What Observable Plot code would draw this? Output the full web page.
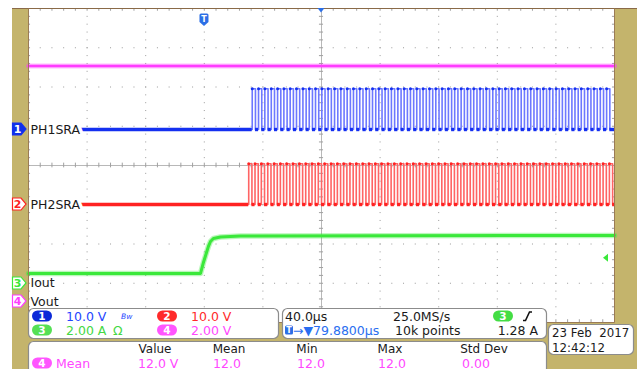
<!DOCTYPE html>
<html><head><meta charset="utf-8">
<script src="https://cdn.jsdelivr.net/npm/d3@7"></script>
<script src="https://cdn.jsdelivr.net/npm/@observablehq/plot@0.6"></script>
<style>
html,body{margin:0;padding:0;background:#fff;}
#chart{position:relative;width:639px;height:369px;overflow:hidden;}
svg text{font-family:"DejaVu Sans",sans-serif;}
</style></head><body><div id="chart"></div>
<script>
// ---------- data (time in µs, trigger at t = 0) ----------
const timeWindow = [-120.12, 279.88];          // 10 div x 40 µs
const timePerDiv = 40;
const channelNames = ["PH1SRA", "PH2SRA", "Iout", "Vout"];
const channelNums = ["1", "2", "3", "4"];
const channelUnitsPerDiv = [10, 10, 2, 2];     // V/div, V/div, A/div, V/div
const channelOffsetDiv = [0.917, -0.994, -3.006, -3.465];
const channelColors = ["#1430f0", "#ff2222", "#3ae83a", "#ff3cff"];

const voutTime = [-120.12, 279.88];
const voutVolts = [12.0, 12.0];

const ioutTime = [-120.1, -2.7, -0.7, 1.4, 2.7, 4.1, 6.1, 10.9, 24.6, 279.9];
const ioutAmps = [0.51, 0.51, 1.07, 1.58, 1.89, 2.14, 2.29, 2.37, 2.42, 2.45];

const ph1Rise = [32.6, 36.9, 41.2, 45.6, 49.9, 54.2, 58.5, 62.8, 67.2, 71.5, 75.8, 80.1, 84.4, 88.8, 93.1, 97.4,
  101.7, 106.0, 110.4, 114.7, 119.0, 123.3, 127.6, 132.0, 136.3, 140.6, 144.9, 149.2, 153.6, 157.9, 162.2,
  166.5, 170.8, 175.2, 179.5, 183.8, 188.1, 192.4, 196.8, 201.1, 205.4, 209.7, 214.0, 218.4, 222.7, 227.0,
  231.3, 235.6, 240.0, 244.3, 248.6, 252.9, 257.2, 261.6, 265.9, 270.2, 274.5];
const ph2Rise = [30.2, 34.5, 38.8, 43.2, 47.5, 51.8, 56.1, 60.4, 64.8, 69.1, 73.4, 77.7, 82.0, 86.4, 90.7, 95.0,
  99.3, 103.6, 108.0, 112.3, 116.6, 120.9, 125.2, 129.6, 133.9, 138.2, 142.5, 146.8, 151.2, 155.5, 159.8,
  164.1, 168.4, 172.8, 177.1, 181.4, 185.7, 190.0, 194.4, 198.7, 203.0, 207.3, 211.6, 216.0, 220.3, 224.6,
  228.9, 233.2, 237.6, 241.9, 246.2, 250.5, 254.8, 259.2, 263.5, 267.8, 272.1, 276.4];
const pulseHighVolts = [10.4, 10.4];
const pulseWidth = 2.2;

const triggerAmps = 1.28;
const scaleLabels = ["10.0 V", "10.0 V", "2.00 A", "2.00 V"];
const timebaseLabels = ["40.0µs", "25.0MS/s", "10k points"];
const triggerPosLabel = "→▼79.8800µs";
const triggerLevelLabel = "1.28 A";
const measHeaders = ["Value", "Mean", "Min", "Max", "Std Dev"];
const measRowName = "Mean";
const measValues = ["12.0 V", "12.0", "12.0", "12.0", "0.00"];
const dateLabels = ["23 Feb  2017", "12:42:12"];

// ---------- derived tables ----------
const toDiv = (ch, v) => channelOffsetDiv[ch] + v / channelUnitsPerDiv[ch];
const vout = voutTime.map((t, i) => ({t, d: toDiv(3, voutVolts[i])}));
const iout = ioutTime.map((t, i) => ({t, d: toDiv(2, ioutAmps[i])}));
function wave(ch, rises, high) {
  const pts = [{t: timeWindow[0], d: toDiv(ch, 0)}];
  for (const r of rises) {
    pts.push({t: r, d: toDiv(ch, 0)}, {t: r, d: toDiv(ch, high)},
             {t: r + pulseWidth, d: toDiv(ch, high)}, {t: r + pulseWidth, d: toDiv(ch, 0)});
  }
  pts.push({t: timeWindow[1], d: toDiv(ch, 0)});
  return pts;
}
function lows(ch, rises) {
  const segs = [{t1: timeWindow[0], t2: rises[0], d: toDiv(ch, 0)}];
  rises.forEach((r, i) => segs.push({t1: r + pulseWidth, t2: i + 1 < rises.length ? rises[i + 1] : timeWindow[1], d: toDiv(ch, 0)}));
  return segs;
}
const ph1 = wave(0, ph1Rise, pulseHighVolts[0]);
const ph2 = wave(1, ph2Rise, pulseHighVolts[1]);
const ph1Low = lows(0, ph1Rise), ph2Low = lows(1, ph2Rise);
const ph1Top = ph1Rise.map(t => ({t, d: toDiv(0, pulseHighVolts[0])}));
const ph2Top = ph2Rise.map(t => ({t, d: toDiv(1, pulseHighVolts[1])}));

// graticule
const majorX = d3.range(0, 11).map(i => timeWindow[0] + i * timePerDiv);
const majorY = d3.range(-4, 5);
const minorX = d3.range(0, 51).map(i => timeWindow[0] + i * timePerDiv / 5);
const minorY = d3.range(-20, 21).map(i => i / 5);
const centerT = timeWindow[0] + 5 * timePerDiv;

const labels = channelNames.map((name, i) => ({name, d: channelOffsetDiv[i], halo: i < 2}));

const chart = Plot.plot({
  width: 639, height: 369,
  marginLeft: 28, marginRight: 25, marginTop: 8, marginBottom: 47,
  style: {background: "transparent", overflow: "visible", fontFamily: "DejaVu Sans"},
  x: {domain: timeWindow, axis: null},
  y: {domain: [-4, 4], axis: null},
  marks: [
    Plot.ruleX(majorX.slice(1, -1).filter(t => Math.abs(t - centerT) > 1), {stroke: "#9a9a9a", strokeDasharray: "1,6.85"}),
    Plot.ruleY(majorY.slice(1, -1).filter(d => d !== 0), {stroke: "#9a9a9a", strokeDasharray: "1,10.72"}),
    Plot.ruleX([centerT], {stroke: "#b8b8b8"}),
    Plot.ruleY([0], {stroke: "#b8b8b8"}),
    Plot.ruleX(minorX, {x: d => d, y1: -0.06, y2: 0.06, stroke: "#a0a0a0"}),
    Plot.ruleY(minorY, {y: d => d, x1: centerT - 1.4, x2: centerT + 1.4, stroke: "#a0a0a0"}),
    Plot.ruleX(minorX, {x: d => d, y1: 3.93, y2: 4, stroke: "#a0a0a0"}),
    Plot.ruleX(minorX, {x: d => d, y1: -4, y2: -3.93, stroke: "#a0a0a0"}),
    Plot.ruleY(minorY, {y: d => d, x1: timeWindow[0], x2: timeWindow[0] + 1.4, stroke: "#a0a0a0"}),
    Plot.ruleY(minorY, {y: d => d, x1: timeWindow[1] - 1.4, x2: timeWindow[1], stroke: "#a0a0a0"}),
    // Vout (ch4)
    Plot.line(vout, {x: "t", y: "d", stroke: channelColors[3], strokeWidth: 5, strokeOpacity: 0.35}),
    Plot.line(vout, {x: "t", y: "d", stroke: channelColors[3], strokeWidth: 2.6}),
    // Iout (ch3)
    Plot.line(iout, {x: "t", y: "d", stroke: channelColors[2], strokeWidth: 5.5, strokeOpacity: 0.35}),
    Plot.line(iout, {x: "t", y: "d", stroke: channelColors[2], strokeWidth: 3}),
    // PH2SRA (ch2)
    Plot.line(ph2, {x: "t", y: "d", stroke: "#ff6464", strokeWidth: 1.6}),
    Plot.ruleY(ph2Low, {x1: "t1", x2: "t2", y: "d", stroke: channelColors[1], strokeWidth: 3.4}),
    Plot.dot(ph2Top, {x: "t", y: "d", r: 1.5, fill: channelColors[1]}),
    // PH1SRA (ch1)
    Plot.line(ph1, {x: "t", y: "d", stroke: "#6d78ff", strokeWidth: 1.6}),
    Plot.ruleY(ph1Low, {x1: "t1", x2: "t2", y: "d", stroke: channelColors[0], strokeWidth: 3.4}),
    Plot.dot(ph1Top, {x: "t", y: "d", r: 1.5, fill: channelColors[0]}),
    // channel labels
    Plot.text(labels, {x: timeWindow[0], y: "d", text: "name", dx: 2, textAnchor: "start", fontSize: 12.5,
      fill: "#1a1a1a", stroke: d => d.halo ? "white" : "none", strokeWidth: 7})
  ]
});
document.getElementById("chart").appendChild(chart);

// ---------- scope chrome ----------
const X = chart.scale("x"), Y = chart.scale("y");
const svg = d3.select(chart);
const khaki = "#c4b46c";
const bg = svg.insert("g", ":first-child");
bg.append("rect").attr("x", 12).attr("y", 8).attr("width", 625).attr("height", 361).attr("fill", khaki);
bg.append("rect").attr("x", 28).attr("y", 8).attr("width", 587).attr("height", 314).attr("fill", "#fff");
const fg = svg.append("g");
fg.append("line").attr("x1", 12).attr("x2", 637).attr("y1", 8.5).attr("y2", 8.5).attr("stroke", "#8a6a48").attr("stroke-width", 1.2);
fg.append("path").attr("d", "M28.5,8.5V322.5H614.5V8.5").attr("fill", "none").attr("stroke", "#9b7b55").attr("stroke-width", 1);

// trigger marker T and horizontal-position marker
const tx = X.apply(0);
fg.append("path").attr("d", `M${tx-4.5},15 q0,-1.5 1.5,-1.5 h6 q1.5,0 1.5,1.5 v7 l-4.5,4 l-4.5,-4 z`).attr("fill", "#2c6fe6");
fg.append("text").attr("x", tx).attr("y", 22).attr("text-anchor", "middle").attr("font-size", 8).attr("font-weight", "bold").attr("fill", "#fff").text("T");
const cx = X.apply(centerT);
fg.append("path").attr("d", `M${cx-3.5},8 h7 l-3.5,4.5 z`).attr("fill", "#2c6fe6");
// trigger level marker (ch3)
const ty = Y.apply(toDiv(2, triggerAmps));
fg.append("path").attr("d", `M603,${ty} l5,-4 v8 z`).attr("fill", channelColors[2]);

// channel reference markers
channelNums.forEach((n, i) => {
  const y = Y.apply(channelOffsetDiv[i]);
  const filled = i === 0;
  fg.append("path").attr("d", `M12.5,${y-6} H21 L26,${y} L21,${y+6} H12.5 Z`)
    .attr("fill", filled ? "#1030e8" : "#fff").attr("stroke", channelColors[i]).attr("stroke-width", 1.2);
  fg.append("text").attr("x", 17.5).attr("y", y + 4.2).attr("text-anchor", "middle").attr("font-size", 11)
    .attr("font-weight", "bold").attr("fill", filled ? "#fff" : channelColors[i]).text(n);
});

function panel(x, y, w, h) {
  fg.append("rect").attr("x", x + 0.5).attr("y", y + 0.5).attr("width", w).attr("height", h).attr("rx", 5)
    .attr("fill", "#fff").attr("stroke", "#8c8c8c").attr("stroke-width", 1.2);
}
function txt(x, y, s, color, anchor = "start", size = 12.5) {
  return fg.append("text").attr("x", x).attr("y", y).attr("text-anchor", anchor).attr("font-size", size)
    .attr("fill", color).style("white-space", "pre").text(s);
}
function oval(x, yc, fill, label) {
  fg.append("rect").attr("x", x).attr("y", yc - 5.5).attr("width", 20).attr("height", 11).attr("rx", 5.5).attr("fill", fill);
  fg.append("text").attr("x", x + 10).attr("y", yc + 4).attr("text-anchor", "middle").attr("font-size", 10.5)
    .attr("font-weight", "bold").attr("fill", "#fff").text(label);
}
const textCols = ["#2446ff", "#ff2a2a", "#44d844", "#ff48ff"];
const ovalCols = ["#0c2ad8", "#ff2a2a", "#55e055", "#ff55ff"];

// panel 1: vertical scales
panel(28, 308, 250, 30);
[[0, 316], [1, 316], [2, 330], [3, 330]].forEach(([ch, yc]) => {
  const ox = ch === 0 || ch === 2 ? 32 : 157;
  oval(ox, yc, ovalCols[ch], channelNums[ch]);
  txt(ox + 34, yc + 4.5, scaleLabels[ch], textCols[ch]);
});
txt(121, 319, "Bw", textCols[0], "start", 7.5).attr("font-style", "italic");
txt(113, 334.5, "Ω", textCols[2]);

// panel 2: timebase / trigger
panel(282, 308, 264, 30);
txt(285, 320.5, timebaseLabels[0], "#1a1a1a");
txt(393, 320.5, timebaseLabels[1], "#1a1a1a");
oval(493, 316, "#44dd44", channelNums[2]);
fg.append("path").attr("d", "M523,320.5 h2.5 l4,-8.5 h2.5").attr("fill", "none").attr("stroke", "#111").attr("stroke-width", 1.6);
fg.append("rect").attr("x", 285).attr("y", 325.5).attr("width", 8).attr("height", 9).attr("rx", 1.5).attr("fill", "#2c6fe6");
fg.append("text").attr("x", 289).attr("y", 333).attr("text-anchor", "middle").attr("font-size", 8).attr("font-weight", "bold").attr("fill", "#fff").text("T");
txt(293, 334.5, triggerPosLabel, "#2a6ef0");
txt(395, 334.5, timebaseLabels[2], "#1a1a1a");
txt(538, 334.5, triggerLevelLabel, "#1a1a1a", "end");

// panel 3: date
panel(548, 324, 85, 30);
txt(552, 337, dateLabels[0], "#1a1a1a", "start", 11.8);
txt(552, 351.5, dateLabels[1], "#1a1a1a", "start", 11.8);

// measurement panel
panel(28, 341, 518, 40);
const headX = [155, 229, 307, 390, 484];
measHeaders.forEach((h, i) => txt(headX[i], 352.5, h, "#1a1a1a", "middle", 12));
oval(32, 363, ovalCols[3], channelNums[3]);
txt(56, 367.5, measRowName, textCols[3]);
const valX = [138, 213, 297, 378, 462];
measValues.forEach((v, i) => txt(valX[i], 367.5, v, textCols[3]));
</script></body></html>
